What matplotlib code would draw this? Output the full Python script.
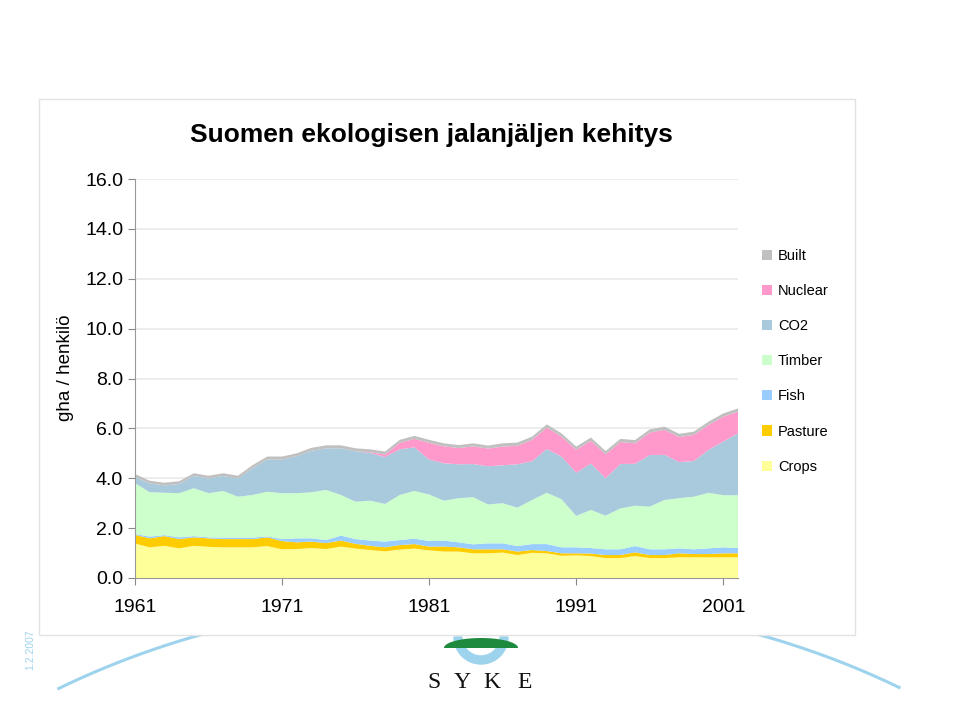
import numpy as np
import matplotlib
matplotlib.use("Agg")
import matplotlib.pyplot as plt
from matplotlib.patches import Rectangle, Wedge, Patch

plt.rcParams["font.family"] = ["Liberation Sans", "DejaVu Sans"]

# ----- Data (gha / henkilö) ---------------------------------------------------
years = list(range(1961, 2003))

crops = [1.38, 1.23, 1.29, 1.19, 1.29, 1.25, 1.23, 1.23, 1.23, 1.28,
         1.15, 1.16, 1.20, 1.16, 1.26, 1.18, 1.12, 1.07, 1.14, 1.18,
         1.11, 1.06, 1.06, 0.99, 0.99, 1.02, 0.92, 1.01, 0.99, 0.89,
         0.91, 0.88, 0.80, 0.80, 0.88, 0.80, 0.80, 0.83, 0.83, 0.83,
         0.83, 0.83]
pasture = [0.35, 0.36, 0.39, 0.37, 0.34, 0.34, 0.33, 0.33, 0.33, 0.35,
           0.33, 0.27, 0.26, 0.24, 0.24, 0.19, 0.17, 0.16, 0.18, 0.18,
           0.15, 0.20, 0.17, 0.16, 0.16, 0.13, 0.14, 0.11, 0.09, 0.10,
           0.08, 0.10, 0.12, 0.12, 0.15, 0.12, 0.12, 0.16, 0.13, 0.13,
           0.16, 0.16]
fish = [0.03, 0.07, 0.04, 0.07, 0.05, 0.04, 0.06, 0.06, 0.06, 0.04,
        0.08, 0.16, 0.13, 0.12, 0.20, 0.19, 0.21, 0.23, 0.20, 0.22,
        0.22, 0.24, 0.20, 0.20, 0.24, 0.24, 0.22, 0.24, 0.28, 0.24,
        0.24, 0.22, 0.23, 0.23, 0.25, 0.23, 0.23, 0.20, 0.19, 0.23,
        0.24, 0.21]
timber = [2.04, 1.78, 1.70, 1.77, 1.92, 1.77, 1.87, 1.64, 1.71, 1.79,
          1.84, 1.81, 1.85, 2.01, 1.63, 1.50, 1.60, 1.51, 1.81, 1.91,
          1.87, 1.60, 1.77, 1.89, 1.56, 1.61, 1.54, 1.77, 2.06, 1.93,
          1.26, 1.53, 1.35, 1.64, 1.62, 1.71, 1.98, 2.01, 2.11, 2.23,
          2.09, 2.12]
co2 = [0.26, 0.35, 0.29, 0.37, 0.49, 0.59, 0.60, 0.73, 1.08, 1.29,
       1.35, 1.48, 1.66, 1.67, 1.87, 2.02, 1.91, 1.88, 1.83, 1.75,
       1.40, 1.50, 1.36, 1.33, 1.53, 1.52, 1.74, 1.55, 1.75, 1.71,
       1.73, 1.86, 1.50, 1.78, 1.68, 2.07, 1.81, 1.45, 1.43, 1.72,
       2.15, 2.48]
nuclear = [0, 0, 0, 0, 0, 0, 0, 0, 0, 0,
           0, 0, 0, 0, 0, 0, 0.03, 0.10, 0.26, 0.34,
           0.67, 0.68, 0.65, 0.71, 0.71, 0.75, 0.74, 0.86, 0.86, 0.80,
           0.92, 0.91, 0.96, 0.88, 0.82, 0.90, 1.00, 1.00, 1.05, 1.00,
           1.00, 0.87]
built = [0.11, 0.11, 0.11, 0.11, 0.11, 0.11, 0.11, 0.11, 0.12, 0.12,
         0.12, 0.12, 0.12, 0.12, 0.12, 0.12, 0.12, 0.12, 0.12, 0.12,
         0.12, 0.12, 0.12, 0.12, 0.12, 0.13, 0.13, 0.13, 0.13, 0.13,
         0.13, 0.13, 0.13, 0.13, 0.13, 0.13, 0.13, 0.13, 0.13, 0.13,
         0.13, 0.13]

labels = ["Crops", "Pasture", "Fish", "Timber", "CO2", "Nuclear", "Built"]
colors = ["#FFFF99", "#FFCC00", "#99CCFF", "#CCFFCC", "#A9C9DC", "#FF99CC", "#C0C0C0"]
xticks = [1961, 1971, 1981, 1991, 2001]
yticks = np.arange(0, 16.1, 2.0)

W, H = 960, 720
fig = plt.figure(figsize=(9.6, 7.2), dpi=100)

# ----- Hintergrund: Kaaret, Logo, Paneeli -------------------------------------
bg = fig.add_axes([0, 0, 1, 1], zorder=0)
bg.set_xlim(0, W)
bg.set_ylim(H, 0)
bg.axis("off")

t = np.linspace(0, 2 * np.pi, 800)
arc_x = 480 + 699 * np.cos(t)
arc_y = 1050 - 453 * np.sin(t)
mask = (arc_y < 690) & (arc_x > 58) & (arc_x < 902)
bg.plot(np.where(mask, arc_x, np.nan), np.where(mask, arc_y, np.nan),
        color="#9DD3EC", lw=2.2, zorder=1)

# SYKE-logo
bg.add_patch(Wedge((481, 637), 27, 0, 180, width=8, color="#9DD3EC", zorder=1))
th = np.linspace(0, np.pi, 60)
bg.fill(481 + 37 * np.cos(th), 648 - 10 * np.sin(th), color="#1E8A3E",
        lw=0, zorder=1.5)
for ch, cx in zip("SYKE", [434, 462, 492, 525]):
    bg.text(cx, 683, ch, ha="center", va="center", fontsize=17,
            family="Liberation Serif", color="#111111", zorder=2)
bg.text(30, 650, "1.2.2007", rotation=90, ha="center", va="center",
        fontsize=7.5, color="#9DD3EC", zorder=2)

bg.add_patch(Rectangle((39, 99), 816, 536, facecolor="white",
                       edgecolor="#E2E2E2", lw=1, zorder=3))

# ----- Pinottu aluekaavio ------------------------------------------------------
ax = fig.add_axes([135 / W, 1 - 578 / H, 603 / W, 399 / H], zorder=2)
ax.stackplot(years, crops, pasture, fish, timber, co2, nuclear, built,
             colors=colors, labels=labels, lw=0)
ax.set_xlim(1961, 2002)
ax.set_ylim(0, 16)
ax.set_yticks(yticks)
ax.set_yticklabels([f"{v:.1f}" for v in yticks])
ax.set_xticks(xticks)
ax.tick_params(axis="both", labelsize=14, color="#888888", length=5)
ax.tick_params(axis="x", pad=10)
ax.grid(True, axis="y", color="#EAEAEA", lw=1.2)
ax.set_axisbelow(True)
for s in ["top", "right"]:
    ax.spines[s].set_visible(False)
for s in ["left", "bottom"]:
    ax.spines[s].set_color("#999999")
ax.patch.set_alpha(0)

fig.text(65 / W, 1 - 368 / H, "gha / henkilö", rotation=90,
         ha="center", va="center", fontsize=13.5)
fig.text(431 / W, 1 - 135 / H, "Suomen ekologisen jalanjäljen kehitys",
         ha="center", va="center", fontsize=19, fontweight="bold")

handles = [Patch(facecolor=c, label=l) for c, l in zip(colors, labels)][::-1]
fig.legend(handles=handles, loc="upper left", bbox_to_anchor=(756 / W, 1 - 243 / H),
           frameon=False, fontsize=10.5, handlelength=0.7, handleheight=0.7,
           handletextpad=0.4, labelspacing=1.45, borderaxespad=0)

fig.savefig("out.png", dpi=100)
